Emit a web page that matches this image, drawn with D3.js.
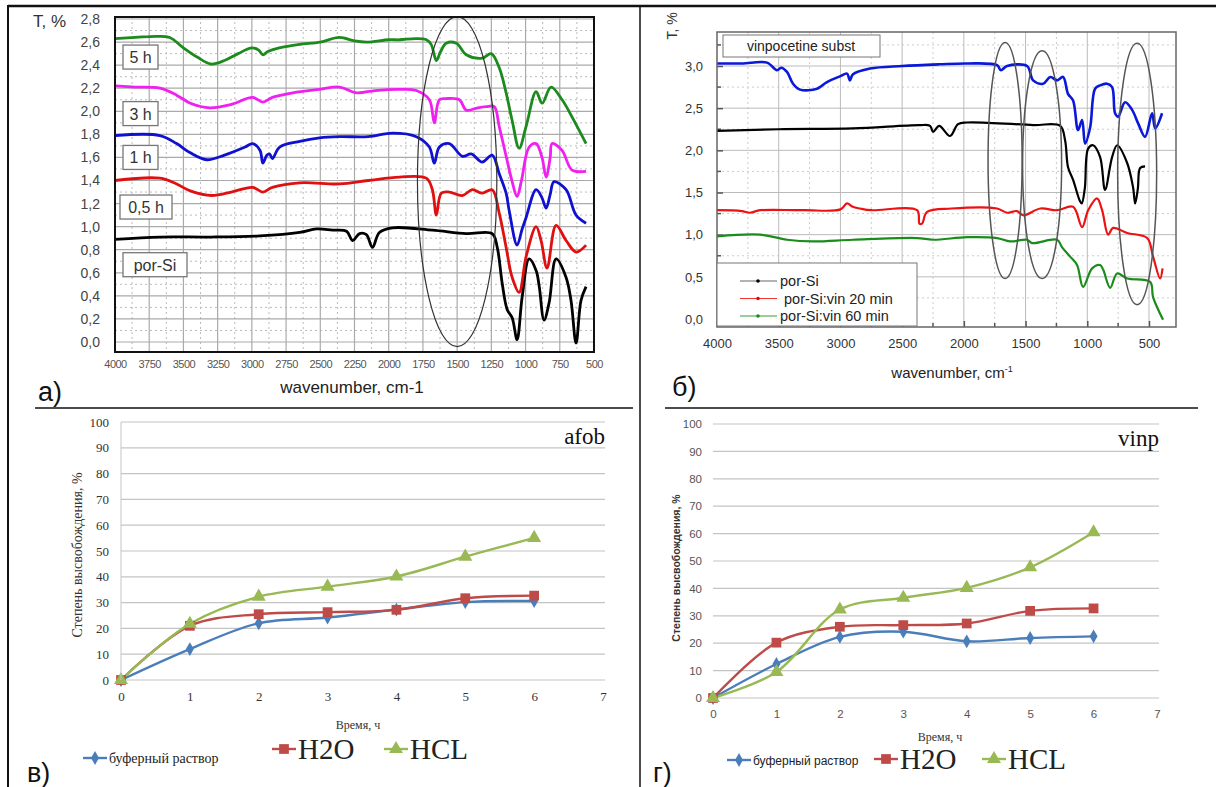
<!DOCTYPE html>
<html>
<head>
<meta charset="utf-8">
<script src="https://cdn.jsdelivr.net/npm/d3@7"></script>
<style>
  body { margin: 0; background: #fff; }
  svg { display: block; }
</style>
</head>
<body>
<div id="fig"></div>
<script>
// ---------- panel a) IR spectra, [wavenumber, T] ----------
var specA5h = [[4000,2.63],[3850,2.64],[3700,2.65],[3600,2.64],[3500,2.55],[3400,2.47],[3300,2.41],[3200,2.44],[3100,2.50],[3000,2.55],[2950,2.53],[2920,2.49],[2880,2.52],[2800,2.55],[2650,2.58],[2500,2.60],[2360,2.64],[2250,2.61],[2160,2.60],[2000,2.62],[1920,2.62],[1800,2.63],[1725,2.62],[1690,2.58],[1652,2.44],[1620,2.52],[1580,2.59],[1506,2.59],[1433,2.49],[1317,2.46],[1251,2.50],[1193,2.38],[1142,2.16],[1098,1.92],[1047,1.68],[996,1.87],[923,2.17],[879,2.07],[814,2.21],[733,2.10],[660,1.95],[558,1.72]];
var specA3h = [[4000,2.22],[3850,2.21],[3672,2.20],[3550,2.14],[3450,2.07],[3307,2.03],[3150,2.06],[2994,2.12],[2920,2.08],[2850,2.12],[2700,2.16],[2505,2.19],[2359,2.21],[2236,2.16],[2100,2.18],[1922,2.19],[1798,2.18],[1703,2.10],[1667,1.90],[1630,2.10],[1580,2.11],[1484,2.10],[1433,2.01],[1350,2.03],[1288,2.04],[1229,2.04],[1193,1.87],[1142,1.61],[1098,1.39],[1062,1.26],[1030,1.40],[974,1.69],[923,1.72],[880,1.60],[850,1.43],[820,1.60],[806,1.72],[733,1.66],[660,1.49],[558,1.48]];
var specA1h = [[4000,1.79],[3672,1.79],[3550,1.72],[3450,1.64],[3330,1.58],[3200,1.62],[3050,1.69],[2994,1.72],[2940,1.66],[2920,1.55],[2890,1.62],[2870,1.63],[2850,1.59],[2797,1.69],[2650,1.74],[2505,1.77],[2359,1.78],[2150,1.78],[1973,1.81],[1798,1.78],[1703,1.69],[1667,1.55],[1630,1.69],[1557,1.72],[1462,1.61],[1397,1.63],[1317,1.56],[1244,1.62],[1193,1.46],[1142,1.29],[1120,1.14],[1062,0.84],[1025,0.98],[996,1.08],[923,1.32],[880,1.25],[850,1.16],[820,1.28],[792,1.39],[704,1.32],[631,1.10],[558,1.03]];
var specA05h = [[4000,1.40],[3672,1.42],[3550,1.37],[3450,1.31],[3293,1.27],[3150,1.30],[2994,1.34],[2920,1.30],[2850,1.34],[2650,1.38],[2359,1.37],[2150,1.40],[1922,1.43],[1725,1.42],[1681,1.32],[1652,1.10],[1616,1.29],[1557,1.30],[1462,1.27],[1389,1.32],[1317,1.29],[1244,1.32],[1193,1.12],[1142,0.82],[1098,0.56],[1047,0.43],[996,0.74],[923,1.00],[887,0.88],[843,0.64],[777,1.01],[704,0.88],[631,0.78],[558,0.84]];
var specAporSi = [[4000,0.89],[3672,0.91],[3300,0.91],[2943,0.92],[2651,0.95],[2527,0.98],[2410,0.97],[2308,0.96],[2264,0.88],[2213,0.94],[2163,0.93],[2119,0.82],[2068,0.95],[1973,0.99],[1681,0.97],[1433,0.94],[1244,0.94],[1207,0.82],[1171,0.51],[1134,0.28],[1098,0.21],[1062,0.02],[1025,0.39],[974,0.72],[923,0.62],[900,0.48],[865,0.19],[828,0.34],[777,0.72],[704,0.56],[668,0.36],[631,-0.01],[595,0.36],[558,0.48]];
var labelsA = ["5 h", "3 h", "1 h", "0,5 h", "por-Si"];
var labelTA = [2.47, 1.98, 1.60, 1.17, 0.67];   // T level of each label box centre
var ticksAy = d3.range(0, 2.81, 0.2);
var ticksAx = d3.range(4000, 499, -250);

// ---------- panel б) IR spectra ----------
var specBvin = [[4000,3.03],[3800,3.03],[3595,3.04],[3514,2.95],[3480,2.98],[3433,2.93],[3384,2.79],[3327,2.72],[3190,2.73],[3109,2.81],[3000,2.88],[2947,2.91],[2923,2.83],[2900,2.90],[2760,2.97],[2500,3.00],[2200,3.02],[1974,3.03],[1731,3.01],[1700,2.95],[1650,3.00],[1488,3.00],[1439,2.83],[1358,2.79],[1300,2.87],[1245,2.83],[1196,2.87],[1156,2.67],[1115,2.59],[1075,2.24],[1042,2.36],[1018,2.08],[977,2.27],[937,2.73],[896,2.77],[840,2.79],[799,2.75],[775,2.44],[750,2.40],[694,2.57],[637,2.48],[588,2.32],[532,2.16],[475,2.44],[450,2.26],[394,2.44]];
var specBporSi = [[4000,2.23],[3500,2.25],[2898,2.26],[2355,2.30],[2274,2.29],[2250,2.22],[2200,2.29],[2112,2.17],[2047,2.31],[1974,2.33],[1439,2.30],[1220,2.29],[1180,2.12],[1156,1.80],[1115,1.65],[1060,1.40],[1045,1.37],[1020,1.55],[993,2.02],[953,2.06],[896,1.92],[856,1.53],[799,1.92],[758,2.06],[677,1.85],[629,1.56],[612,1.37],[590,1.55],[572,1.79],[532,1.81]];
var specB20 = [[4000,1.29],[3800,1.28],[3733,1.26],[3650,1.29],[3300,1.29],[3000,1.30],[2947,1.37],[2900,1.33],[2841,1.31],[2750,1.29],[2379,1.29],[2360,1.13],[2339,1.13],[2298,1.27],[2100,1.31],[1731,1.31],[1650,1.26],[1570,1.28],[1520,1.23],[1380,1.31],[1245,1.29],[1115,1.33],[1042,1.09],[993,1.29],[921,1.43],[880,1.29],[831,1.00],[791,1.08],[677,1.02],[515,0.96],[467,0.74],[410,0.48],[390,0.60]];
var specB60 = [[4000,0.98],[3651,1.00],[3433,0.94],[3222,0.92],[2898,0.94],[2379,0.96],[2250,0.94],[1974,0.97],[1731,0.96],[1626,0.92],[1488,0.94],[1447,0.90],[1245,0.94],[1204,0.85],[1139,0.74],[1083,0.64],[1034,0.38],[961,0.60],[896,0.64],[870,0.58],[815,0.37],[758,0.54],[677,0.48],[491,0.44],[467,0.26],[386,-0.01]];
var legendB = ["por-Si", " por-Si:vin 20 min", "por-Si:vin 60 min"];
var ticksBy = d3.range(0, 3.01, 0.5);
var ticksBx = d3.range(4000, 499, -500);

// ---------- panels в) and г) release kinetics ----------
var timeH = [0, 1, 2, 3, 4, 5, 6];
var afobBuffer = [0, 12, 22, 24.2, 27.3, 30.2, 30.6];
var afobH2O = [0, 21, 25.5, 26.3, 27.2, 31.7, 32.7];
var afobHCl = [0, 21.8, 32.3, 36.2, 40.1, 47.8, 55.1];
var vinpBuffer = [0, 12.4, 22.3, 24.2, 20.7, 21.9, 22.5];
var vinpH2O = [0, 20.2, 26, 26.6, 27.2, 31.8, 32.7];
var vinpHCl = [0, 9.5, 32.3, 36.6, 40.2, 47.7, 60.5];
var releaseNames = ["буферный раствор", "H2O", "HCL"];
var releaseTicksY = d3.range(0, 101, 10);
var releaseTicksX = d3.range(0, 8, 1);

var svg = d3.select("#fig").append("svg").attr("width", 1216).attr("height", 787);
svg.append("rect").attr("width", 1216).attr("height", 787).attr("fill", "#fff");

function seg(x1, y1, x2, y2, w, col) {
  svg.append("line").attr("x1", x1).attr("y1", y1).attr("x2", x2).attr("y2", y2)
    .attr("stroke", col || "#111").attr("stroke-width", w);
}
// frame of the figure
seg(8, 6, 1216, 6, 2.5);
seg(8, 5, 8, 787, 2);
seg(640, 6, 640, 787, 1.5);
seg(35, 408, 633, 408, 1.5);
seg(665, 408, 1198, 408, 1.5);

var sans = "'Liberation Sans', Arial, sans-serif";
var serif = "'Liberation Serif', 'Times New Roman', serif";
function comma(f) { return function(d) { return d3.format(f)(d).replace(".", ","); }; }

// ================= panel a =================
(function() {
  var x = d3.scaleLinear().domain([4000, 500]).range([115, 594]);
  var y = d3.scaleLinear().domain([0, 2.8]).range([342, 19]);
  var top = 17, bot = 352;
  var g = svg.append("g");

  // minor dotted grid
  g.selectAll(null).data(d3.range(3875, 500, -250)).enter().append("line")
    .attr("x1", d => x(d)).attr("x2", d => x(d)).attr("y1", top).attr("y2", bot)
    .attr("stroke", "#bbb").attr("stroke-dasharray", "2,3");
  g.selectAll(null).data(d3.range(0.1, 2.8, 0.2)).enter().append("line")
    .attr("x1", 115).attr("x2", 594).attr("y1", d => y(d)).attr("y2", d => y(d))
    .attr("stroke", "#bbb").attr("stroke-dasharray", "2,3");
  // major grid
  g.selectAll(null).data(ticksAx.slice(1, -1)).enter().append("line")
    .attr("x1", d => x(d)).attr("x2", d => x(d)).attr("y1", top).attr("y2", bot)
    .attr("stroke", "#aaa").attr("stroke-width", 1.2);
  g.selectAll(null).data(ticksAy).enter().append("line")
    .attr("x1", 115).attr("x2", 594).attr("y1", d => y(d)).attr("y2", d => y(d))
    .attr("stroke", "#aaa").attr("stroke-width", 1.2);

  var yAxis = g.append("g").attr("transform", "translate(115,0)")
    .call(d3.axisLeft(y).tickValues(ticksAy).tickFormat(comma(".1f")).tickSize(0).tickPadding(15));
  yAxis.select(".domain").remove();
  yAxis.selectAll("text").attr("font-family", sans).attr("font-size", 14).attr("fill", "#444");
  var xAxis = g.append("g").attr("transform", "translate(0," + bot + ")")
    .call(d3.axisBottom(x).tickValues(ticksAx).tickFormat(d3.format("d")).tickSize(0).tickPadding(8));
  xAxis.select(".domain").remove();
  xAxis.selectAll("text").attr("font-family", sans).attr("font-size", 11).attr("fill", "#555")
    .attr("letter-spacing", "-0.5");

  var line = d3.line().x(d => x(d[0])).y(d => y(d[1])).curve(d3.curveCatmullRom.alpha(0.5));
  var series = [[specAporSi, "#000"], [specA05h, "#e01010"], [specA1h, "#1010d0"],
                [specA3h, "#f020f0"], [specA5h, "#1c8a1c"]];
  g.selectAll(null).data(series).enter().append("path")
    .attr("d", d => line(d[0])).attr("fill", "none").attr("stroke", d => d[1])
    .attr("stroke-width", 2.8).attr("stroke-linejoin", "round");

  // label boxes
  var lb = g.selectAll(null).data(labelsA).enter().append("g")
    .attr("transform", (d, i) => "translate(" + (i === 3 ? 120 : 123) + "," + (y(labelTA[i]) - 12) + ")");
  lb.append("rect").attr("width", (d, i) => i === 3 ? 52 : (i === 4 ? 64 : 35)).attr("height", 24)
    .attr("fill", "#fff").attr("stroke", "#777").attr("stroke-width", 1.3);
  lb.append("text").text(d => d).attr("x", (d, i) => i === 3 ? 26 : (i === 4 ? 32 : 17.5)).attr("y", 18)
    .attr("text-anchor", "middle").attr("font-family", sans).attr("font-size", 16).attr("fill", "#333");

  // annotation ellipse around 1500 cm-1
  g.append("ellipse").attr("cx", x(1500)).attr("cy", y(1.39)).attr("rx", x(1500) - x(1790))
    .attr("ry", y(0) - y(1.43)).attr("fill", "none").attr("stroke", "#333").attr("stroke-width", 1.2);

  g.append("rect").attr("x", 115).attr("y", top).attr("width", 479).attr("height", bot - top)
    .attr("fill", "none").attr("stroke", "#111").attr("stroke-width", 2);

  g.append("text").text("T, %").attr("x", 33).attr("y", 27).attr("font-family", sans)
    .attr("font-size", 17).attr("fill", "#333");
  g.append("text").text("wavenumber, cm-1").attr("x", 352).attr("y", 393).attr("text-anchor", "middle")
    .attr("font-family", sans).attr("font-size", 17).attr("fill", "#222");
  g.append("text").text("a)").attr("x", 38).attr("y", 401).attr("font-family", sans)
    .attr("font-size", 27).attr("fill", "#111");
})();

// ================= panel б =================
(function() {
  var x = d3.scaleLinear().domain([4000, 500]).range([717, 1149]);
  var y = d3.scaleLinear().domain([0, 3]).range([319, 66]);
  var left = 717, right = 1176, top = 32, bot = 327;
  var g = svg.append("g");

  g.selectAll(null).data(d3.range(3750, 300, -500)).enter().append("line")
    .attr("x1", d => x(d)).attr("x2", d => x(d)).attr("y1", top).attr("y2", bot)
    .attr("stroke", "#ccc").attr("stroke-dasharray", "2,3");
  g.selectAll(null).data(d3.range(0.25, 3.3, 0.5)).enter().append("line")
    .attr("x1", left).attr("x2", right).attr("y1", d => y(d)).attr("y2", d => y(d))
    .attr("stroke", "#ccc").attr("stroke-dasharray", "2,3");
  g.selectAll(null).data(ticksBx.slice(1)).enter().append("line")
    .attr("x1", d => x(d)).attr("x2", d => x(d)).attr("y1", top).attr("y2", bot)
    .attr("stroke", "#bbb");
  g.selectAll(null).data(ticksBy.slice(1)).enter().append("line")
    .attr("x1", left).attr("x2", right).attr("y1", d => y(d)).attr("y2", d => y(d))
    .attr("stroke", "#bbb");

  var yAxis = g.append("g").attr("transform", "translate(" + left + ",0)")
    .call(d3.axisLeft(y).tickValues(ticksBy).tickFormat(comma(".1f")).tickSize(-6).tickPadding(14));
  yAxis.select(".domain").remove();
  yAxis.selectAll("line").attr("stroke", "#555").attr("stroke-width", 1.5);
  yAxis.selectAll("text").attr("font-family", sans).attr("font-size", 13).attr("fill", "#333");
  g.selectAll(null).data(d3.range(0.25, 3.3, 0.5)).enter().append("line")
    .attr("x1", left).attr("x2", left + 4).attr("y1", d => y(d)).attr("y2", d => y(d))
    .attr("stroke", "#555").attr("stroke-width", 1.5);
  var xAxis = g.append("g").attr("transform", "translate(0," + bot + ")")
    .call(d3.axisBottom(x).tickValues(ticksBx).tickFormat(d3.format("d")).tickSize(-6).tickPadding(12));
  xAxis.select(".domain").remove();
  xAxis.selectAll("line").attr("stroke", "#555").attr("stroke-width", 1.5);
  xAxis.selectAll("text").attr("font-family", sans).attr("font-size", 13).attr("fill", "#333");
  g.selectAll(null).data(d3.range(3750, 300, -500)).enter().append("line")
    .attr("x1", d => x(d)).attr("x2", d => x(d)).attr("y1", bot).attr("y2", bot - 4)
    .attr("stroke", "#555").attr("stroke-width", 1.5);

  var line = d3.line().x(d => x(d[0])).y(d => y(d[1])).curve(d3.curveCatmullRom.alpha(0.5));
  var series = [[specB60, "#1a8c1a", 2.2], [specB20, "#ee1111", 2.2],
                [specBporSi, "#000", 2.2], [specBvin, "#0a18d8", 2.6]];
  g.selectAll(null).data(series).enter().append("path")
    .attr("d", d => line(d[0])).attr("fill", "none").attr("stroke", d => d[1])
    .attr("stroke-width", d => d[2]).attr("stroke-linejoin", "round");

  // annotation ellipses
  var ell = [[1666, 1.88, 138, 1.40], [1366, 1.83, 158, 1.35], [596, 1.72, 158, 1.55]];
  g.selectAll(null).data(ell).enter().append("ellipse")
    .attr("cx", d => x(d[0])).attr("cy", d => y(d[1])).attr("rx", d => x(4000 - d[2]) - x(4000))
    .attr("ry", d => y(0) - y(d[3])).attr("fill", "none").attr("stroke", "#555").attr("stroke-width", 1.5);

  g.append("rect").attr("x", left).attr("y", top).attr("width", right - left).attr("height", bot - top)
    .attr("fill", "none").attr("stroke", "#666").attr("stroke-width", 1.5);

  // title box
  g.append("rect").attr("x", 723).attr("y", 35).attr("width", 157).attr("height", 22)
    .attr("fill", "#fff").attr("stroke", "#777");
  g.append("text").text("vinpocetine subst").attr("x", 801).attr("y", 51).attr("text-anchor", "middle")
    .attr("font-family", sans).attr("font-size", 14).attr("fill", "#222");

  // legend
  g.append("rect").attr("x", left).attr("y", 263).attr("width", 200).attr("height", bot - 263 - 1)
    .attr("fill", "#fff").attr("stroke", "#777");
  var cols = ["#666", "#ee3333", "#33a033"], dots = ["#000", "#e00", "#1a8c1a"];
  var le = g.selectAll(null).data(legendB).enter().append("g")
    .attr("transform", (d, i) => "translate(0," + (281 + i * 17.5) + ")");
  le.append("line").attr("x1", 740).attr("x2", 777).attr("stroke", (d, i) => cols[i]).attr("stroke-width", 1.2);
  le.append("circle").attr("cx", 758).attr("r", 1.8).attr("fill", (d, i) => dots[i]);
  le.append("text").text(d => d).attr("x", 780).attr("y", 5).attr("font-family", sans)
    .attr("font-size", 14.5).attr("fill", "#222").style("white-space", "pre");

  g.append("text").attr("transform", "translate(677,26) rotate(-90)").attr("text-anchor", "middle")
    .attr("font-family", sans).attr("font-size", 14).attr("fill", "#333").text("T, %");
  var xt = g.append("text").attr("x", 952).attr("y", 378).attr("text-anchor", "middle")
    .attr("font-family", sans).attr("font-size", 15).attr("fill", "#222");
  xt.append("tspan").text("wavenumber, cm");
  xt.append("tspan").text("-1").attr("font-size", 9).attr("dy", -6);
  g.append("text").text("б)").attr("x", 672).attr("y", 396).attr("font-family", sans)
    .attr("font-size", 27).attr("fill", "#111");
})();

// ================= panels в, г =================
var relColors = ["#4a7ebb", "#be4b48", "#98b954"];
var relSymbols = [d3.symbolDiamond, d3.symbolSquare, d3.symbolTriangle];
var relSizes = [55, 95, 85];

function releasePanel(o) {
  var x = d3.scaleLinear().domain([0, 7]).range(o.xr);
  var y = d3.scaleLinear().domain([0, 100]).range(o.yr);
  var g = svg.append("g");
  g.selectAll(null).data(releaseTicksY).enter().append("line")
    .attr("x1", o.xr[0]).attr("x2", o.xr[1] + 2).attr("y1", d => y(d)).attr("y2", d => y(d))
    .attr("stroke", "#c4c4c4").attr("stroke-width", 1.2);
  if (o.leftLine) {
    seg(o.xr[0], o.yr[0], o.xr[0], o.yr[1], 1, "#c4c4c4");
  }
  var ya = g.append("g").attr("transform", "translate(" + o.xr[0] + ",0)")
    .call(d3.axisLeft(y).tickValues(releaseTicksY).tickFormat(d3.format("d")).tickSize(0).tickPadding(o.padY));
  ya.select(".domain").remove();
  ya.selectAll("text").attr("font-family", o.tickFont).attr("font-size", o.tickSize).attr("fill", o.tickCol);
  var xa = g.append("g").attr("transform", "translate(0," + o.yr[0] + ")")
    .call(d3.axisBottom(x).tickValues(releaseTicksX).tickFormat(d3.format("d")).tickSize(0).tickPadding(o.padX));
  xa.select(".domain").remove();
  xa.selectAll("text").attr("font-family", o.tickFont).attr("font-size", o.tickSize).attr("fill", o.tickCol);

  var line = d3.line().x((d, i) => x(timeH[i])).y(d => y(d)).curve(d3.curveCatmullRom.alpha(0.5));
  o.series.forEach(function(s, k) {
    g.append("path").attr("d", line(s)).attr("fill", "none").attr("stroke", relColors[k])
      .attr("stroke-width", 2.4);
  });
  o.series.forEach(function(s, k) {
    g.selectAll(null).data(s).enter().append("path")
      .attr("transform", (d, i) => "translate(" + x(timeH[i]) + "," + y(d) + ")")
      .attr("d", d3.symbol().type(relSymbols[k]).size(relSizes[k])).attr("fill", relColors[k]);
  });

  g.append("text").text(o.title).attr("x", o.xr[1] + 2).attr("y", o.yr[1] + 22).attr("text-anchor", "end")
    .attr("font-family", serif).attr("font-size", 23).attr("fill", "#111");
  g.append("text").text("Время, ч").attr("x", o.xlab[0]).attr("y", o.xlab[1]).attr("text-anchor", "middle")
    .attr("font-family", serif).attr("font-size", 12).attr("fill", "#333");
  g.append("text").text("Степень высвобождения, %")
    .attr("transform", "translate(" + o.ylab[0] + "," + o.ylab[1] + ") rotate(-90)")
    .attr("text-anchor", "middle").attr("font-family", o.ylabFont).attr("font-size", o.ylabSize)
    .attr("font-weight", o.ylabWeight).attr("fill", "#333");

  // legend
  o.legend.forEach(function(L, k) {
    var lg = g.append("g").attr("transform", "translate(" + L[0] + "," + L[1] + ")");
    lg.append("line").attr("x1", 0).attr("x2", 24).attr("stroke", relColors[k]).attr("stroke-width", 2.4);
    lg.append("path").attr("transform", "translate(12,0)")
      .attr("d", d3.symbol().type(relSymbols[k]).size(relSizes[k])).attr("fill", relColors[k]);
    lg.append("text").text(releaseNames[k]).attr("x", 26).attr("y", k === 0 ? 5 : 10)
      .attr("font-family", k === 0 ? o.legFont : serif).attr("font-size", k === 0 ? o.legSize : 29)
      .attr("fill", "#222");
  });
  g.append("text").text(o.tag).attr("x", o.tagPos[0]).attr("y", o.tagPos[1]).attr("font-family", sans)
    .attr("font-size", 27).attr("fill", "#111");
}

releasePanel({
  xr: [121, 603], yr: [680, 422], series: [afobBuffer, afobH2O, afobHCl], title: "afob",
  tickFont: serif, tickSize: 13, tickCol: "#333", padY: 12, padX: 12, leftLine: true,
  xlab: [358, 729], ylab: [82, 555], ylabFont: serif, ylabSize: 14, ylabWeight: "normal",
  legend: [[83, 758], [272, 749], [384, 749]], legFont: serif, legSize: 14,
  tag: "в)", tagPos: [27, 782]
});
releasePanel({
  xr: [713, 1157], yr: [698, 424], series: [vinpBuffer, vinpH2O, vinpHCl], title: "vinp",
  tickFont: sans, tickSize: 11.5, tickCol: "#555", padY: 11, padX: 12, leftLine: false,
  xlab: [940, 741], ylab: [680, 568], ylabFont: sans, ylabSize: 10.5, ylabWeight: "bold",
  legend: [[727, 760], [874, 759], [982, 759]], legFont: sans, legSize: 12,
  tag: "г)", tagPos: [653, 782]
});
</script>
</body>
</html>
